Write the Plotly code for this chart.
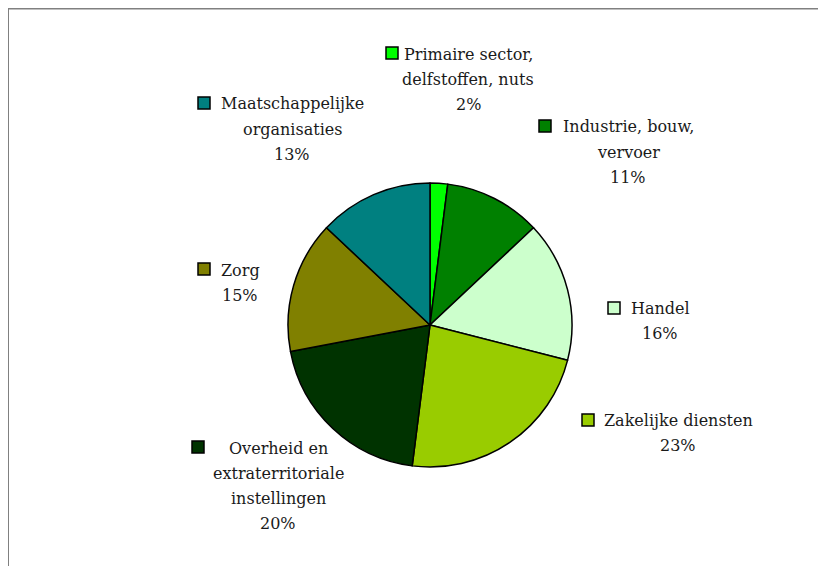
import plotly.graph_objects as go

# ---- data ----
sectors = [
    "Primaire sector,<br>delfstoffen, nuts",
    "Industrie, bouw,<br>vervoer",
    "Handel",
    "Zakelijke diensten",
    "Overheid en<br>extraterritoriale<br>instellingen",
    "Zorg",
    "Maatschappelijke<br>organisaties",
]
shares = [2, 11, 16, 23, 20, 15, 13]
colors = ["#00FF00", "#008000", "#CCFFCC", "#99CC00", "#003300", "#808000", "#008080"]

# ---- layout helpers (pixel positions in the window; page has 8px body margin) ----
W, H = 826, 566
OFF = 8
def px(x):
    return (x - OFF) / W
def py(y):
    return 1 - (y - OFF) / H

# (text block center x, first line center y, key square left x, key square top y)
label_pos = [
    (468, 54, 386, 47),
    (628, 127, 539, 120),
    (660, 308, 608, 302),
    (678, 420, 582, 414),
    (278, 448, 192, 441),
    (240, 270, 198, 263),
    (292, 104, 198, 97),
]
LINE = 25.3
KEY = 12

cx, cy, r = 430, 325, 142

fig = go.Figure(go.Pie(
    labels=[s.replace("<br>", " ") for s in sectors],
    values=shares,
    sort=False,
    direction="clockwise",
    rotation=0,
    textinfo="none",
    hoverinfo="label+percent",
    marker=dict(colors=colors, line=dict(color="black", width=1.5)),
    domain=dict(x=[px(cx - r), px(cx + r)], y=[py(cy + r), py(cy - r)]),
    showlegend=False,
))

annotations = []
shapes = []
for name, val, col, (bx, by, kx, ky) in zip(sectors, shares, colors, label_pos):
    lines = name.split("<br>") + [f"{val}%"]
    for i, line in enumerate(lines):
        annotations.append(dict(
            x=px(bx), y=py(by + i * LINE), xref="paper", yref="paper",
            text=line, showarrow=False, align="center",
            xanchor="center", yanchor="middle",
            font=dict(family="DejaVu Serif", size=16, color="#1a1a1a"),
        ))
    shapes.append(dict(
        type="rect", xref="paper", yref="paper",
        x0=px(kx), x1=px(kx + KEY), y0=py(ky + KEY), y1=py(ky),
        fillcolor=col, line=dict(color="black", width=1.5),
    ))

# frame lines (top and left)
shapes.append(dict(type="line", xref="paper", yref="paper",
                   x0=px(8), x1=1.0, y0=py(8.5), y1=py(8.5),
                   line=dict(color="#808080", width=2)))
shapes.append(dict(type="line", xref="paper", yref="paper",
                   x0=px(8), x1=px(8), y0=py(8.5), y1=0.0,
                   line=dict(color="#808080", width=2)))

fig.update_layout(
    width=W, height=H,
    margin=dict(l=0, r=0, t=0, b=0),
    paper_bgcolor="white", plot_bgcolor="white",
    annotations=annotations, shapes=shapes,
)

fig.write_html("out.html")
